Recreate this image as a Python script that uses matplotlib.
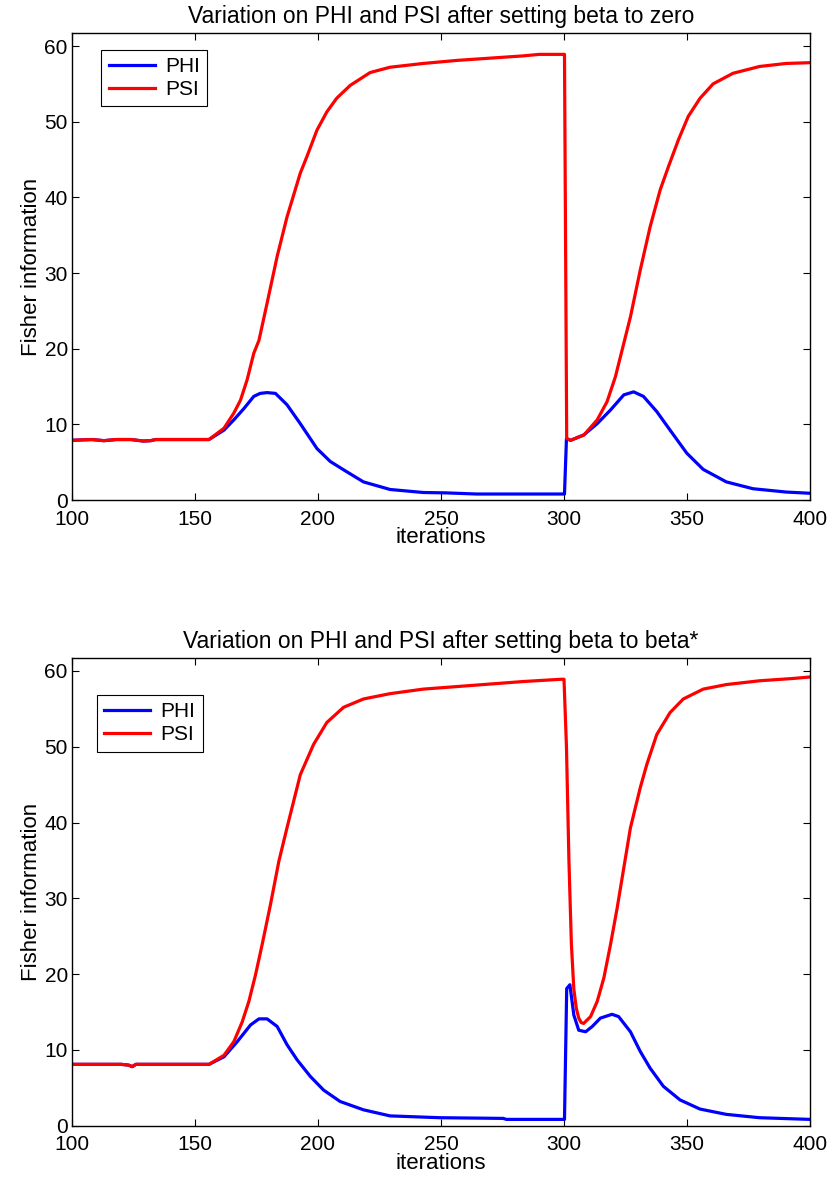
import matplotlib.pyplot as plt

plt.rcParams['font.family'] = ['Liberation Sans', 'DejaVu Sans']

# ---- top panel: beta set to zero ----
top_phi_x = [100, 104, 108, 113, 118, 124, 129, 132, 134, 138, 145, 150, 155.7,
             161.8, 165.8, 169.9, 173.9, 176.5, 179.3, 182.7, 187.4, 192.8, 199.6,
             205, 210.4, 218.5, 229.3, 242.8, 252, 264.5, 280, 299.6,
             300.2, 301, 302.7, 308, 313.5, 318.9, 324.3, 328.3, 332.3, 337.7,
             343.1, 349.9, 356.6, 366, 376.8, 390.3, 400]
top_phi_y = [7.9, 7.95, 8.0, 7.85, 8.0, 8.0, 7.8, 7.85, 8.0, 8.0, 8.0, 8.0, 8.0,
             9.25, 10.6, 12.1, 13.7, 14.1, 14.2, 14.1, 12.6, 10.1, 6.8,
             5.1, 4.0, 2.4, 1.4, 1.0, 0.95, 0.8, 0.8, 0.8,
             0.8, 8.1, 7.9, 8.6, 10.1, 11.9, 13.9, 14.3, 13.7, 11.7,
             9.25, 6.2, 4.05, 2.4, 1.5, 1.06, 0.9]

top_psi_x = [100, 104, 108, 113, 118, 124, 129, 132, 134, 138, 145, 150, 155.7,
             161.8, 165.8, 168.5, 171.2, 173.9, 176, 179.3, 183.4, 187.4, 192.8,
             195.5, 199.6, 203.6, 207.6, 213.1, 221.2, 229.3, 242.8, 256.4, 269.9,
             283.4, 290, 299.6,
             300.2, 301.1, 302.7, 308.1, 313.5, 317.5, 320.9, 323.6, 327, 331,
             335, 339.1, 342.5, 346.5, 350.5, 355.3, 360.6, 368.7, 379.5, 390.3, 400]
top_psi_y = [7.9, 7.95, 8.0, 7.85, 8.0, 8.0, 7.8, 7.85, 8.0, 8.0, 8.0, 8.0, 8.0,
             9.5, 11.5, 13.2, 15.9, 19.4, 21.1, 26.0, 32.2, 37.4, 43.2,
             45.4, 48.9, 51.3, 53.1, 54.8, 56.5, 57.2, 57.7, 58.1, 58.4,
             58.7, 58.9, 58.9,
             58.9, 8.15, 7.9, 8.6, 10.6, 13.0, 16.3, 19.8, 24.2, 30.4,
             36.1, 41.0, 44.1, 47.6, 50.7, 53.1, 55.0, 56.4, 57.3, 57.7, 57.8]

# ---- bottom panel: beta set to beta* ----
bot_phi_x = [100, 110, 120, 123, 124.5, 126, 135, 145, 155.7,
             161.8, 167.2, 172.6, 176, 179.3, 183.4, 187.4, 191.5, 196.9, 202.3,
             209, 218.5, 229.3, 249.6, 275.3, 276.6, 299.6,
             300.2, 301.1, 302.4, 304, 306, 308.8, 311.5, 314.8, 319.5, 322.2,
             327, 331, 335, 340.4, 347.2, 355.3, 366, 379.5, 400]
bot_phi_y = [8.1, 8.1, 8.1, 8.0, 7.8, 8.1, 8.1, 8.1, 8.1,
             9.1, 11.1, 13.3, 14.1, 14.1, 13.1, 10.7, 8.7, 6.5, 4.7,
             3.2, 2.1, 1.3, 1.06, 0.97, 0.84, 0.84,
             0.84, 18.1, 18.6, 14.6, 12.6, 12.4, 13.1, 14.2, 14.7, 14.4,
             12.4, 9.8, 7.6, 5.2, 3.4, 2.2, 1.5, 1.06, 0.84]

bot_psi_x = [100, 110, 120, 123, 124.5, 126, 135, 145, 155.7,
             161.8, 165.8, 169.2, 171.9, 174.6, 177.3, 180.7, 184.1, 187.4, 192.8,
             198.2, 203.6, 210.4, 218.5, 229.3, 242.8, 263.1, 283.4, 298.9,
             300, 301, 302, 303, 304, 305, 306, 307, 308, 310.8, 313.5, 316.2,
             318.9, 321.6, 324.3, 327, 331, 333.7, 337.7, 343.1, 348.5, 356.6,
             366, 379.5, 393, 400]
bot_psi_y = [8.1, 8.1, 8.1, 8.0, 7.8, 8.1, 8.1, 8.1, 8.1,
             9.3, 11.1, 13.7, 16.4, 19.9, 23.9, 29.2, 34.9, 39.3, 46.3,
             50.3, 53.2, 55.2, 56.3, 57.0, 57.6, 58.1, 58.6, 58.9,
             58.9, 50.0, 35.0, 24.0, 18.0, 15.5, 14.2, 13.6, 13.5, 14.4, 16.4, 19.5,
             23.9, 28.7, 34.0, 39.3, 44.6, 47.7, 51.6, 54.5, 56.3, 57.6,
             58.2, 58.7, 59.0, 59.2]

titles = ["Variation on PHI and PSI after setting beta to zero",
          "Variation on PHI and PSI after setting beta to beta*"]

fig = plt.figure(figsize=(8.33, 11.85), dpi=100)
ax1 = fig.add_axes([0.0864, 0.578, 0.886, 0.394])
ax2 = fig.add_axes([0.0864, 0.050, 0.886, 0.3947])

panels = [(ax1, top_phi_x, top_phi_y, top_psi_x, top_psi_y, (0.040, 0.965)),
          (ax2, bot_phi_x, bot_phi_y, bot_psi_x, bot_psi_y, (0.034, 0.921))]

for i, (ax, px, py, sx, sy, leg_pos) in enumerate(panels):
    ax.plot(px, py, color='#0000ff', lw=2.3, label='PHI')
    ax.plot(sx, sy, color='#ff0000', lw=2.3, label='PSI')
    ax.set_xlim(100, 400)
    ax.set_ylim(0, 61.7)
    ax.set_xticks([100, 150, 200, 250, 300, 350, 400])
    ax.set_yticks([0, 10, 20, 30, 40, 50, 60])
    ax.tick_params(direction='in', length=5, width=0.8, labelsize=15,
                   top=True, right=True)
    ax.tick_params(axis='x', pad=7)
    ax.tick_params(axis='y', pad=3)
    for s in ax.spines.values():
        s.set_linewidth(1.0)
    ax.set_title(titles[i], fontsize=16.5, pad=7)
    ax.set_xlabel("iterations", fontsize=16, labelpad=-1)
    ax.set_ylabel("Fisher information", fontsize=16, labelpad=2)
    leg = ax.legend(loc='upper left', bbox_to_anchor=leg_pos, fontsize=15,
                    fancybox=False, framealpha=1, edgecolor='black',
                    borderaxespad=0, handlelength=2.2, handletextpad=0.5,
                    labelspacing=0.2, borderpad=0.35)
    leg.get_frame().set_linewidth(0.8)

fig.savefig("out.png", dpi=100)
